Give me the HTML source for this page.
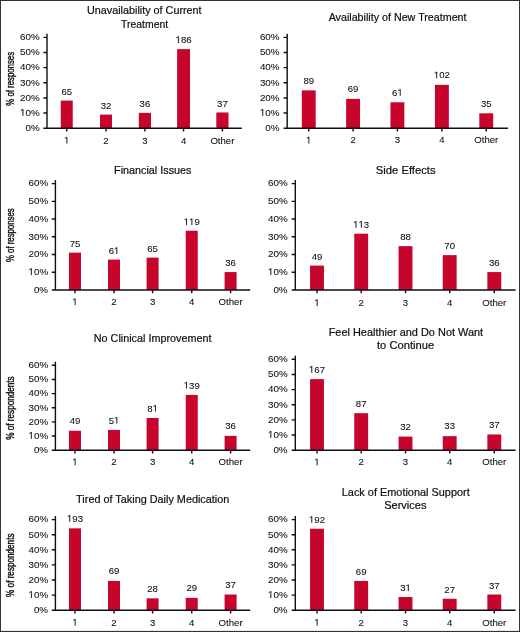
<!DOCTYPE html>
<html><head><meta charset="utf-8"><title>Chart</title>
<style>html,body{margin:0;padding:0;background:#fff;}body{width:520px;height:632px;overflow:hidden;}svg{display:block;position:absolute;left:0;top:0;will-change:transform;filter:blur(0.35px);}text{font-family:"Liberation Sans",sans-serif;fill:#100e0f;stroke:#100e0f;stroke-width:0.2px;}.t{font-size:10.8px;text-anchor:middle;}.k{font-size:9.8px;text-anchor:end;stroke-width:0.08px;}.v{font-size:9.6px;text-anchor:middle;stroke-width:0.08px;}.x{font-size:9.6px;text-anchor:middle;stroke-width:0.08px;}.y{font-size:10px;text-anchor:middle;stroke-width:0.4px;}.g1{fill:#100e0f;stroke:#100e0f;}.b{fill:#c7042b;}.a{stroke:#100e0f;fill:none;}</style>
</head><body>
<svg width="520" height="632" viewBox="0 0 520 632">
<rect x="0" y="0" width="520" height="632" fill="#fff"/>
<rect x="0" y="0" width="520" height="1" fill="#333"/>
<rect x="0" y="0" width="1" height="632" fill="#333"/>
<rect x="0" y="630.9" width="520" height="1.1" fill="#333"/>
<rect x="519" y="0" width="1" height="632" fill="#333"/>
<g>
<text class="t" x="144.3" y="14.1" textLength="114.64" lengthAdjust="spacingAndGlyphs">Unavailability of Current</text>
<text class="t" x="144.6" y="28" textLength="47.1" lengthAdjust="spacingAndGlyphs">Treatment</text>
<text class="y" transform="translate(13.8 78.8) rotate(-90) scale(0.78 1)" x="0" y="0">% of responses</text>
<rect class="b" x="60.75" y="100.57" width="12" height="27.63"/>
<text class="v" x="66.75" y="94.67">65</text>
<rect class="b" x="100" y="114.6" width="12" height="13.6"/>
<text class="v" x="106" y="108.7">32</text>
<rect class="b" x="138.8" y="112.9" width="12.2" height="15.3"/>
<text class="v" x="144.9" y="107">36</text>
<rect class="b" x="177.1" y="49.13" width="12.9" height="79.07"/>
<path class="g1" transform="translate(175.54 42.93) scale(0.00469 -0.00469)" stroke-width="17.07" d="M505 0V1215L160 1005V1165L540 1409H690V0Z"/><text class="v" style="text-anchor:start" x="180.88" y="42.93">86</text>
<rect class="b" x="216.3" y="112.47" width="12.2" height="15.73"/>
<text class="v" x="222.4" y="106.57">37</text>
<path class="a" stroke-width="1.4" d="M47 33.8V128.2H241.8M43.4 128.2H47M43.4 113.07H47M43.4 97.93H47M43.4 82.8H47M43.4 67.67H47M43.4 52.53H47M43.4 37.4H47M66.75 128.2V131.4M106 128.2V131.4M144.9 128.2V131.4M183.55 128.2V131.4M222.4 128.2V131.4"/>
<text class="k" x="39.7" y="131">0%</text>
<path class="g1" transform="translate(20.09 115.87) scale(0.00479 -0.00479)" stroke-width="16.72" d="M505 0V1215L160 1005V1165L540 1409H690V0Z"/><text class="k" style="text-anchor:start" x="25.54" y="115.87">0%</text>
<text class="k" x="39.7" y="100.73">20%</text>
<text class="k" x="39.7" y="85.6">30%</text>
<text class="k" x="39.7" y="70.47">40%</text>
<text class="k" x="39.7" y="55.33">50%</text>
<text class="k" x="39.7" y="40.2">60%</text>
<path class="g1" transform="translate(64.08 143.5) scale(0.00469 -0.00469)" stroke-width="17.07" d="M505 0V1215L160 1005V1165L540 1409H690V0Z"/>
<text class="x" x="106" y="143.5">2</text>
<text class="x" x="144.9" y="143.5">3</text>
<text class="x" x="183.55" y="143.5">4</text>
<text class="x" x="222.4" y="143.5">Other</text>
</g>
<g>
<text class="t" x="397.6" y="20.9" textLength="137.94" lengthAdjust="spacingAndGlyphs">Availability of New Treatment</text>
<rect class="b" x="301.8" y="90.37" width="13.9" height="37.83"/>
<text class="v" x="308.75" y="83.87">89</text>
<rect class="b" x="346.15" y="98.87" width="13.9" height="29.33"/>
<text class="v" x="353.1" y="92.37">69</text>
<rect class="b" x="390.45" y="102.27" width="13.9" height="25.93"/>
<text class="v" style="text-anchor:start" x="392.06" y="95.77">6</text><path class="g1" transform="translate(397.4 95.77) scale(0.00469 -0.00469)" stroke-width="17.07" d="M505 0V1215L160 1005V1165L540 1409H690V0Z"/>
<rect class="b" x="434.95" y="84.84" width="13.9" height="43.36"/>
<path class="g1" transform="translate(433.89 78.34) scale(0.00469 -0.00469)" stroke-width="17.07" d="M505 0V1215L160 1005V1165L540 1409H690V0Z"/><text class="v" style="text-anchor:start" x="439.23" y="78.34">02</text>
<rect class="b" x="479.3" y="113.32" width="13.9" height="14.88"/>
<text class="v" x="486.25" y="106.82">35</text>
<path class="a" stroke-width="1.4" d="M287.2 33.8V128.2H508.1M283.6 128.2H287.2M283.6 113.07H287.2M283.6 97.93H287.2M283.6 82.8H287.2M283.6 67.67H287.2M283.6 52.53H287.2M283.6 37.4H287.2M308.75 128.2V131.4M353.1 128.2V131.4M397.4 128.2V131.4M441.9 128.2V131.4M486.25 128.2V131.4"/>
<text class="k" x="279.5" y="131">0%</text>
<path class="g1" transform="translate(259.89 115.87) scale(0.00479 -0.00479)" stroke-width="16.72" d="M505 0V1215L160 1005V1165L540 1409H690V0Z"/><text class="k" style="text-anchor:start" x="265.34" y="115.87">0%</text>
<text class="k" x="279.5" y="100.73">20%</text>
<text class="k" x="279.5" y="85.6">30%</text>
<text class="k" x="279.5" y="70.47">40%</text>
<text class="k" x="279.5" y="55.33">50%</text>
<text class="k" x="279.5" y="40.2">60%</text>
<path class="g1" transform="translate(306.08 143.4) scale(0.00469 -0.00469)" stroke-width="17.07" d="M505 0V1215L160 1005V1165L540 1409H690V0Z"/>
<text class="x" x="353.1" y="143.4">2</text>
<text class="x" x="397.4" y="143.4">3</text>
<text class="x" x="441.9" y="143.4">4</text>
<text class="x" x="486.25" y="143.4">Other</text>
</g>
<g>
<text class="t" x="152.75" y="173.8" textLength="77.43" lengthAdjust="spacingAndGlyphs">Financial Issues</text>
<text class="y" transform="translate(13.6 235.2) rotate(-90) scale(0.78 1)" x="0" y="0">% of responses</text>
<rect class="b" x="69" y="252.64" width="12" height="37.36"/>
<text class="v" x="75" y="246.94">75</text>
<rect class="b" x="108" y="259.61" width="12" height="30.39"/>
<text class="v" style="text-anchor:start" x="108.66" y="253.91">6</text><path class="g1" transform="translate(114 253.91) scale(0.00469 -0.00469)" stroke-width="17.07" d="M505 0V1215L160 1005V1165L540 1409H690V0Z"/>
<rect class="b" x="146.6" y="257.62" width="12" height="32.38"/>
<text class="v" x="152.6" y="251.92">65</text>
<rect class="b" x="185.75" y="230.72" width="12" height="59.28"/>
<path class="g1" transform="translate(183.74 225.02) scale(0.00469 -0.00469)" stroke-width="17.07" d="M505 0V1215L160 1005V1165L540 1409H690V0Z"/><path class="g1" transform="translate(189.08 225.02) scale(0.00469 -0.00469)" stroke-width="17.07" d="M505 0V1215L160 1005V1165L540 1409H690V0Z"/><text class="v" style="text-anchor:start" x="194.42" y="225.02">9</text>
<rect class="b" x="224.6" y="272.07" width="12" height="17.93"/>
<text class="v" x="230.6" y="266.37">36</text>
<path class="a" stroke-width="1.4" d="M55.4 180V290H250.2M51.8 290H55.4M51.8 272.27H55.4M51.8 254.53H55.4M51.8 236.8H55.4M51.8 219.07H55.4M51.8 201.33H55.4M51.8 183.6H55.4M75 290V293.2M114 290V293.2M152.6 290V293.2M191.75 290V293.2M230.6 290V293.2"/>
<text class="k" x="48.1" y="292.8">0%</text>
<path class="g1" transform="translate(28.49 275.07) scale(0.00479 -0.00479)" stroke-width="16.72" d="M505 0V1215L160 1005V1165L540 1409H690V0Z"/><text class="k" style="text-anchor:start" x="33.94" y="275.07">0%</text>
<text class="k" x="48.1" y="257.33">20%</text>
<text class="k" x="48.1" y="239.6">30%</text>
<text class="k" x="48.1" y="221.87">40%</text>
<text class="k" x="48.1" y="204.13">50%</text>
<text class="k" x="48.1" y="186.4">60%</text>
<path class="g1" transform="translate(72.33 305) scale(0.00469 -0.00469)" stroke-width="17.07" d="M505 0V1215L160 1005V1165L540 1409H690V0Z"/>
<text class="x" x="114" y="305">2</text>
<text class="x" x="152.6" y="305">3</text>
<text class="x" x="191.75" y="305">4</text>
<text class="x" x="230.6" y="305">Other</text>
</g>
<g>
<text class="t" x="405.7" y="174" textLength="59.73" lengthAdjust="spacingAndGlyphs">Side Effects</text>
<rect class="b" x="310.05" y="265.59" width="13.9" height="24.41"/>
<text class="v" x="317" y="259.59">49</text>
<rect class="b" x="354.25" y="233.71" width="13.9" height="56.29"/>
<path class="g1" transform="translate(353.19 227.71) scale(0.00469 -0.00469)" stroke-width="17.07" d="M505 0V1215L160 1005V1165L540 1409H690V0Z"/><path class="g1" transform="translate(358.53 227.71) scale(0.00469 -0.00469)" stroke-width="17.07" d="M505 0V1215L160 1005V1165L540 1409H690V0Z"/><text class="v" style="text-anchor:start" x="363.87" y="227.71">3</text>
<rect class="b" x="398.55" y="246.16" width="13.9" height="43.84"/>
<text class="v" x="405.5" y="240.16">88</text>
<rect class="b" x="442.75" y="255.13" width="13.9" height="34.87"/>
<text class="v" x="449.7" y="249.13">70</text>
<rect class="b" x="487.35" y="272.07" width="13.9" height="17.93"/>
<text class="v" x="494.3" y="266.07">36</text>
<path class="a" stroke-width="1.4" d="M295.3 180V290H515.6M291.7 290H295.3M291.7 272.27H295.3M291.7 254.53H295.3M291.7 236.8H295.3M291.7 219.07H295.3M291.7 201.33H295.3M291.7 183.6H295.3M317 290V293.2M361.2 290V293.2M405.5 290V293.2M449.7 290V293.2M494.3 290V293.2"/>
<text class="k" x="287.6" y="292.8">0%</text>
<path class="g1" transform="translate(267.99 275.07) scale(0.00479 -0.00479)" stroke-width="16.72" d="M505 0V1215L160 1005V1165L540 1409H690V0Z"/><text class="k" style="text-anchor:start" x="273.44" y="275.07">0%</text>
<text class="k" x="287.6" y="257.33">20%</text>
<text class="k" x="287.6" y="239.6">30%</text>
<text class="k" x="287.6" y="221.87">40%</text>
<text class="k" x="287.6" y="204.13">50%</text>
<text class="k" x="287.6" y="186.4">60%</text>
<path class="g1" transform="translate(314.33 305.9) scale(0.00469 -0.00469)" stroke-width="17.07" d="M505 0V1215L160 1005V1165L540 1409H690V0Z"/>
<text class="x" x="361.2" y="305.9">2</text>
<text class="x" x="405.5" y="305.9">3</text>
<text class="x" x="449.7" y="305.9">4</text>
<text class="x" x="494.3" y="305.9">Other</text>
</g>
<g>
<text class="t" x="152.6" y="341.8" textLength="117.63" lengthAdjust="spacingAndGlyphs">No Clinical Improvement</text>
<text class="y" transform="translate(13.6 408) rotate(-90) scale(0.816 1)" x="0" y="0">% of respondents</text>
<rect class="b" x="69" y="430.72" width="12" height="19.48"/>
<text class="v" x="75" y="424.32">49</text>
<rect class="b" x="108" y="429.93" width="12" height="20.27"/>
<text class="v" style="text-anchor:start" x="108.66" y="423.53">5</text><path class="g1" transform="translate(114 423.53) scale(0.00469 -0.00469)" stroke-width="17.07" d="M505 0V1215L160 1005V1165L540 1409H690V0Z"/>
<rect class="b" x="146.6" y="418" width="12" height="32.2"/>
<text class="v" style="text-anchor:start" x="147.26" y="411.6">8</text><path class="g1" transform="translate(152.6 411.6) scale(0.00469 -0.00469)" stroke-width="17.07" d="M505 0V1215L160 1005V1165L540 1409H690V0Z"/>
<rect class="b" x="185.75" y="394.95" width="12" height="55.25"/>
<path class="g1" transform="translate(183.74 388.55) scale(0.00469 -0.00469)" stroke-width="17.07" d="M505 0V1215L160 1005V1165L540 1409H690V0Z"/><text class="v" style="text-anchor:start" x="189.08" y="388.55">39</text>
<rect class="b" x="224.6" y="435.89" width="12" height="14.31"/>
<text class="v" x="230.6" y="429.49">36</text>
<path class="a" stroke-width="1.4" d="M55.4 361.7V450.2H250.2M51.8 450.2H55.4M51.8 436.05H55.4M51.8 421.9H55.4M51.8 407.75H55.4M51.8 393.6H55.4M51.8 379.45H55.4M51.8 365.3H55.4M75 450.2V453.4M114 450.2V453.4M152.6 450.2V453.4M191.75 450.2V453.4M230.6 450.2V453.4"/>
<text class="k" x="48.1" y="453">0%</text>
<path class="g1" transform="translate(28.49 438.85) scale(0.00479 -0.00479)" stroke-width="16.72" d="M505 0V1215L160 1005V1165L540 1409H690V0Z"/><text class="k" style="text-anchor:start" x="33.94" y="438.85">0%</text>
<text class="k" x="48.1" y="424.7">20%</text>
<text class="k" x="48.1" y="410.55">30%</text>
<text class="k" x="48.1" y="396.4">40%</text>
<text class="k" x="48.1" y="382.25">50%</text>
<text class="k" x="48.1" y="368.1">60%</text>
<path class="g1" transform="translate(72.33 465.2) scale(0.00469 -0.00469)" stroke-width="17.07" d="M505 0V1215L160 1005V1165L540 1409H690V0Z"/>
<text class="x" x="114" y="465.2">2</text>
<text class="x" x="152.6" y="465.2">3</text>
<text class="x" x="191.75" y="465.2">4</text>
<text class="x" x="230.6" y="465.2">Other</text>
</g>
<g>
<text class="t" x="405.9" y="335.6" textLength="154.5" lengthAdjust="spacingAndGlyphs">Feel Healthier and Do Not Want</text>
<text class="t" x="405.6" y="349" textLength="57.17" lengthAdjust="spacingAndGlyphs">to Continue</text>
<rect class="b" x="310.05" y="379.13" width="13.9" height="71.07"/>
<path class="g1" transform="translate(308.99 372.68) scale(0.00469 -0.00469)" stroke-width="17.07" d="M505 0V1215L160 1005V1165L540 1409H690V0Z"/><text class="v" style="text-anchor:start" x="314.33" y="372.68">67</text>
<rect class="b" x="354.25" y="413.18" width="13.9" height="37.02"/>
<text class="v" x="361.2" y="406.73">87</text>
<rect class="b" x="398.55" y="436.58" width="13.9" height="13.62"/>
<text class="v" x="405.5" y="430.13">32</text>
<rect class="b" x="442.75" y="436.16" width="13.9" height="14.04"/>
<text class="v" x="449.7" y="429.31">33</text>
<rect class="b" x="487.35" y="434.45" width="13.9" height="15.75"/>
<text class="v" x="494.3" y="428">37</text>
<path class="a" stroke-width="1.4" d="M295.3 355.7V450.2H515.6M291.7 450.2H295.3M291.7 435.05H295.3M291.7 419.9H295.3M291.7 404.75H295.3M291.7 389.6H295.3M291.7 374.45H295.3M291.7 359.3H295.3M317 450.2V453.4M361.2 450.2V453.4M405.5 450.2V453.4M449.7 450.2V453.4M494.3 450.2V453.4"/>
<text class="k" x="287.6" y="453">0%</text>
<path class="g1" transform="translate(267.99 437.85) scale(0.00479 -0.00479)" stroke-width="16.72" d="M505 0V1215L160 1005V1165L540 1409H690V0Z"/><text class="k" style="text-anchor:start" x="273.44" y="437.85">0%</text>
<text class="k" x="287.6" y="422.7">20%</text>
<text class="k" x="287.6" y="407.55">30%</text>
<text class="k" x="287.6" y="392.4">40%</text>
<text class="k" x="287.6" y="377.25">50%</text>
<text class="k" x="287.6" y="362.1">60%</text>
<path class="g1" transform="translate(314.33 465.3) scale(0.00469 -0.00469)" stroke-width="17.07" d="M505 0V1215L160 1005V1165L540 1409H690V0Z"/>
<text class="x" x="361.2" y="465.3">2</text>
<text class="x" x="405.5" y="465.3">3</text>
<text class="x" x="449.7" y="465.3">4</text>
<text class="x" x="494.3" y="465.3">Other</text>
</g>
<g>
<text class="t" x="152.75" y="502.6" textLength="153.22" lengthAdjust="spacingAndGlyphs">Tired of Taking Daily Medication</text>
<text class="y" transform="translate(13.6 565.2) rotate(-90) scale(0.816 1)" x="0" y="0">% of respondents</text>
<rect class="b" x="69" y="528.34" width="12" height="81.86"/>
<path class="g1" transform="translate(66.99 521.69) scale(0.00469 -0.00469)" stroke-width="17.07" d="M505 0V1215L160 1005V1165L540 1409H690V0Z"/><text class="v" style="text-anchor:start" x="72.33" y="521.69">93</text>
<rect class="b" x="108" y="580.93" width="12" height="29.27"/>
<text class="v" x="114" y="574.28">69</text>
<rect class="b" x="146.6" y="598.32" width="12" height="11.88"/>
<text class="v" x="152.6" y="591.67">28</text>
<rect class="b" x="185.75" y="597.9" width="12" height="12.3"/>
<text class="v" x="191.75" y="591.25">29</text>
<rect class="b" x="224.6" y="594.51" width="12" height="15.69"/>
<text class="v" x="230.6" y="588.26">37</text>
<path class="a" stroke-width="1.4" d="M55.4 516V610.2H250.2M51.8 610.2H55.4M51.8 595.1H55.4M51.8 580H55.4M51.8 564.9H55.4M51.8 549.8H55.4M51.8 534.7H55.4M51.8 519.6H55.4M75 610.2V613.4M114 610.2V613.4M152.6 610.2V613.4M191.75 610.2V613.4M230.6 610.2V613.4"/>
<text class="k" x="48.1" y="613">0%</text>
<path class="g1" transform="translate(28.49 597.9) scale(0.00479 -0.00479)" stroke-width="16.72" d="M505 0V1215L160 1005V1165L540 1409H690V0Z"/><text class="k" style="text-anchor:start" x="33.94" y="597.9">0%</text>
<text class="k" x="48.1" y="582.8">20%</text>
<text class="k" x="48.1" y="567.7">30%</text>
<text class="k" x="48.1" y="552.6">40%</text>
<text class="k" x="48.1" y="537.5">50%</text>
<text class="k" x="48.1" y="522.4">60%</text>
<path class="g1" transform="translate(72.33 625.5) scale(0.00469 -0.00469)" stroke-width="17.07" d="M505 0V1215L160 1005V1165L540 1409H690V0Z"/>
<text class="x" x="114" y="625.5">2</text>
<text class="x" x="152.6" y="625.5">3</text>
<text class="x" x="191.75" y="625.5">4</text>
<text class="x" x="230.6" y="625.5">Other</text>
</g>
<g>
<text class="t" x="405.75" y="495.9" textLength="127.93" lengthAdjust="spacingAndGlyphs">Lack of Emotional Support</text>
<text class="t" x="405.3" y="509" textLength="42.24" lengthAdjust="spacingAndGlyphs">Services</text>
<rect class="b" x="310.05" y="528.76" width="13.9" height="81.44"/>
<path class="g1" transform="translate(308.99 522.76) scale(0.00469 -0.00469)" stroke-width="17.07" d="M505 0V1215L160 1005V1165L540 1409H690V0Z"/><text class="v" style="text-anchor:start" x="314.33" y="522.76">92</text>
<rect class="b" x="354.25" y="580.93" width="13.9" height="29.27"/>
<text class="v" x="361.2" y="574.93">69</text>
<rect class="b" x="398.55" y="597.05" width="13.9" height="13.15"/>
<text class="v" style="text-anchor:start" x="400.16" y="591.05">3</text><path class="g1" transform="translate(405.5 591.05) scale(0.00469 -0.00469)" stroke-width="17.07" d="M505 0V1215L160 1005V1165L540 1409H690V0Z"/>
<rect class="b" x="442.75" y="598.75" width="13.9" height="11.45"/>
<text class="v" x="449.7" y="592.75">27</text>
<rect class="b" x="487.35" y="594.51" width="13.9" height="15.69"/>
<text class="v" x="494.3" y="588.51">37</text>
<path class="a" stroke-width="1.4" d="M295.3 516V610.2H515.6M291.7 610.2H295.3M291.7 595.1H295.3M291.7 580H295.3M291.7 564.9H295.3M291.7 549.8H295.3M291.7 534.7H295.3M291.7 519.6H295.3M317 610.2V613.4M361.2 610.2V613.4M405.5 610.2V613.4M449.7 610.2V613.4M494.3 610.2V613.4"/>
<text class="k" x="287.6" y="613">0%</text>
<path class="g1" transform="translate(267.99 597.9) scale(0.00479 -0.00479)" stroke-width="16.72" d="M505 0V1215L160 1005V1165L540 1409H690V0Z"/><text class="k" style="text-anchor:start" x="273.44" y="597.9">0%</text>
<text class="k" x="287.6" y="582.8">20%</text>
<text class="k" x="287.6" y="567.7">30%</text>
<text class="k" x="287.6" y="552.6">40%</text>
<text class="k" x="287.6" y="537.5">50%</text>
<text class="k" x="287.6" y="522.4">60%</text>
<path class="g1" transform="translate(314.33 625.6) scale(0.00469 -0.00469)" stroke-width="17.07" d="M505 0V1215L160 1005V1165L540 1409H690V0Z"/>
<text class="x" x="361.2" y="625.6">2</text>
<text class="x" x="405.5" y="625.6">3</text>
<text class="x" x="449.7" y="625.6">4</text>
<text class="x" x="494.3" y="625.6">Other</text>
</g>
</svg>
</body></html>
